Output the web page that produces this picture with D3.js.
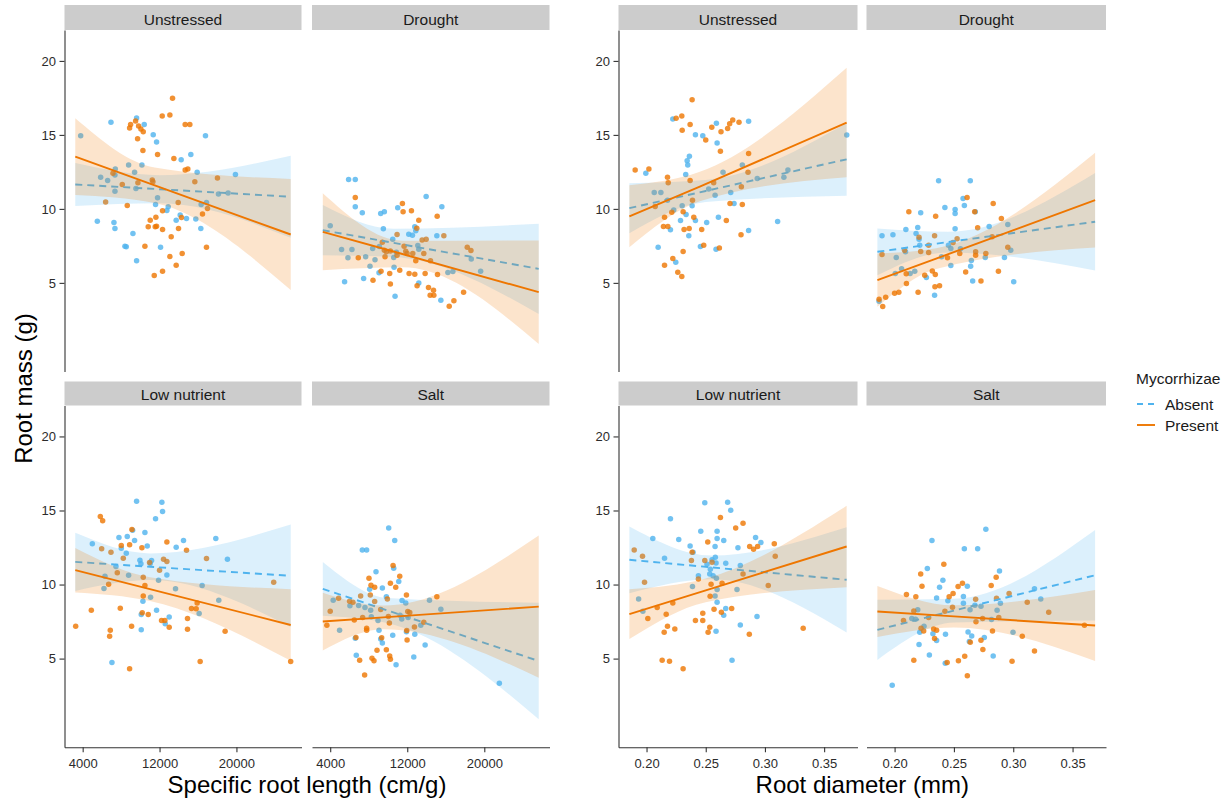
<!DOCTYPE html>
<html><head><meta charset="utf-8">
<script src="https://cdn.jsdelivr.net/npm/d3@7"></script>
<style>body{margin:0;background:#fff;} text{font-family:"Liberation Sans",Arial,sans-serif;}</style>
</head><body><svg id="chart" width="1231" height="803"></svg>
<script>
const treatments = ["Unstressed","Drought","Low nutrient","Salt"];
const groups = ["Absent","Present"];
const srlTicks = [4000,12000,20000];
const diaTicks = [0.20,0.25,0.30,0.35];
const yTicks = [5,10,15,20];
const srlRange = [3230, 25650];
const diaRange = [0.1855, 0.369];
const yRange = [0.06, 21.04];

// ---- points: [x, root mass] ----
const srlUnstressedAbsent = [[3792,14.95],[6944,15.85],[9610,16.14],[10406,15.71],[11342,15.01],[11688,14.52],[16779,14.95],[14250,13.32],[15255,13.68],[15913,12.47],[19895,12.33],[8779,12.96],[10164,12.96],[9402,12.47],[7394,12.69],[7359,12.29],[5870,12.13],[6597,11.92],[7359,11.20],[9541,11.38],[11792,10.75],[11584,10.30],[12900,10.14],[12762,9.89],[16329,10.30],[16883,10.44],[18130,11.0],[19134,11.07],[5524,9.17],[7255,9.08],[7359,8.68],[13731,9.24],[14804,9.35],[15774,9.31],[14146,9.58],[16294,8.68],[9229,8.34],[8398,7.48],[8536,7.44],[12103,7.41],[9610,6.49]];
const srlUnstressedPresent = [[13350,17.47],[12277,16.28],[13073,16.35],[9506,15.94],[8987,15.71],[8883,15.47],[9818,15.6],[10060,15.4],[10303,15.22],[14666,15.71],[15151,15.71],[9714,14.74],[10268,13.95],[11792,13.68],[13489,13.41],[14666,12.62],[14943,12.69],[18026,12.08],[15670,11.83],[11238,11.95],[11307,11.83],[9749,11.77],[8121,11.65],[7151,12.4],[6390,10.46],[8641,10.23],[13939,10.44],[16987,10.03],[12311,9.87],[16467,9.65],[11619,9.44],[11030,9.24],[10822,8.79],[11550,8.79],[11688,8.83],[12311,8.61],[13974,8.68],[14285,9.42],[13212,8.11],[10476,7.48],[16883,7.41],[14354,6.98],[13073,6.78],[13731,6.19],[12311,5.79],[11446,5.50]];
const srlDroughtAbsent = [[4000,8.86],[5909,11.99],[6603,11.99],[6603,10.14],[7332,9.74],[9241,9.69],[9623,9.80],[9519,8.65],[11011,10.08],[13962,10.84],[15593,10.14],[15073,8.18],[12781,8.79],[12886,8.52],[12157,8.29],[12539,8.22],[13094,7.53],[13198,7.28],[10491,7.95],[5180,7.26],[6256,7.26],[5840,6.69],[7679,6.76],[8408,7.32],[9102,7.46],[8651,6.56],[8131,6.13],[10595,6.71],[10873,7.07],[10630,6.06],[9067,5.68],[7471,5.29],[5493,5.07],[10734,4.10],[13198,5.0],[15489,3.83],[16218,5.70],[16739,5.77],[18648,6.62],[19620,5.79]];
const srlDroughtPresent = [[6603,10.77],[11497,10.37],[11567,9.80],[12435,9.87],[13198,9.24],[12990,8.70],[15107,9.51],[15801,8.18],[13545,7.89],[13962,7.95],[10942,8.27],[9415,7.75],[11671,7.48],[9623,7.21],[9831,7.10],[10248,7.16],[11844,7.14],[11983,6.98],[12573,6.98],[13718,6.98],[9692,6.76],[10942,6.87],[12886,6.49],[14413,6.49],[6916,6.69],[8443,5.18],[9276,5.79],[10178,5.63],[11220,5.86],[12192,5.63],[12781,5.59],[13857,5.63],[15142,5.56],[10248,4.93],[13023,4.80],[14204,4.68],[14725,4.50],[14378,4.16],[14760,4.16],[16843,3.80],[16357,3.42],[17849,4.37],[18231,7.41],[18613,7.19]];
const srlLowAbsent = [[5004,12.75],[6216,9.73],[6320,10.56],[7047,4.73],[7463,11.22],[7775,13.18],[8017,12.45],[8641,13.24],[8537,12.12],[8779,10.63],[9194,13.67],[9402,12.97],[9610,15.63],[9957,11.64],[10060,11.40],[10268,8.87],[10095,7.97],[10095,6.94],[10476,13.51],[10718,12.61],[11030,11.42],[11169,11.62],[11065,9.14],[11584,14.44],[11688,8.27],[11896,10.29],[12242,15.56],[12311,14.93],[12588,7.36],[12761,10.65],[13004,7.81],[13662,9.71],[13731,12.52],[14493,12.97],[16121,8.04],[16432,9.93],[17852,13.11],[18164,8.94],[19064,11.71]];
const srlLowPresent = [[3273,7.18],[4900,8.27],[5835,14.59],[6078,14.30],[5974,12.41],[6944,12.18],[6701,10.02],[7602,10.79],[7913,8.40],[6874,6.91],[6805,6.51],[8017,12.63],[8225,11.78],[8883,12.68],[9125,13.72],[9090,7.18],[8883,4.32],[10164,12.48],[10303,10.50],[10303,9.23],[10476,9.93],[10199,8.09],[10822,7.97],[10961,11.49],[12000,10.97],[12415,11.71],[12761,11.55],[12761,12.88],[12207,7.57],[12554,7.57],[13004,7.12],[14805,12.32],[14909,7.70],[14909,6.98],[15324,8.38],[15809,8.36],[15913,8.76],[16225,4.80],[16883,11.76],[18822,6.85],[23878,10.16],[25644,4.80]];
const srlSaltAbsent = [[4312,8.94],[4972,6.91],[6048,8.56],[6603,6.37],[6707,5.23],[6950,8.58],[7332,12.34],[7783,12.34],[7610,8.45],[8200,8.27],[8269,7.82],[8096,9.68],[8755,10.86],[8963,7.57],[9067,6.91],[9241,6.33],[9415,6.06],[9415,9.77],[9831,9.17],[10074,13.81],[10491,6.58],[10699,12.97],[10595,11.10],[10838,4.59],[11116,10.20],[11255,7.93],[11463,8.92],[11428,7.68],[11845,8.76],[11914,6.82],[12088,7.77],[12678,5.11],[12781,6.64],[13406,7.25],[13857,5.92],[14309,8.94],[15489,8.33],[21563,3.33]];
const srlSaltPresent = [[3653,7.25],[4000,8.20],[4868,9.08],[6013,8.87],[6360,8.81],[6499,7.61],[6673,6.42],[7055,4.89],[7159,9.23],[7367,7.77],[7575,3.90],[7783,7.05],[7783,6.91],[8026,10.43],[8235,9.95],[8165,9.30],[8616,9.82],[8616,8.85],[8339,5.02],[8547,4.86],[8859,5.56],[9241,8.31],[9345,6.40],[9831,5.59],[9935,9.03],[10039,7.84],[10144,7.41],[10178,5.18],[10248,4.95],[10248,10.09],[10526,11.28],[10804,9.82],[11220,10.56],[11914,9.30],[12053,8.18],[12261,8.11],[11949,6.89],[11983,6.26],[12747,7.14],[13718,7.45],[15073,9.17]];

const diaUnstressedAbsent = [[0.1994,12.40],[0.2065,11.11],[0.2121,11.11],[0.2098,7.41],[0.2177,10.59],[0.2202,8.59],[0.2230,9.92],[0.2222,16.07],[0.2247,6.40],[0.2287,9.22],[0.2301,10.21],[0.2331,12.33],[0.2334,9.62],[0.2343,13.26],[0.2348,12.96],[0.2362,13.55],[0.2385,10.21],[0.2357,8.18],[0.2413,15.01],[0.2413,9.22],[0.2455,7.46],[0.2475,14.95],[0.2508,9.08],[0.2525,11.34],[0.2579,10.93],[0.2590,15.78],[0.2596,14.45],[0.2587,7.28],[0.2607,9.44],[0.2646,12.47],[0.2711,11.11],[0.2739,10.37],[0.2809,12.96],[0.2862,15.92],[0.2862,8.54],[0.2935,12.06],[0.3107,9.15],[0.3160,12.13],[0.3194,12.62],[0.3691,14.99]];
const diaUnstressedPresent = [[0.1904,12.62],[0.2020,12.69],[0.2073,10.16],[0.2177,12.13],[0.2183,11.77],[0.2152,9.44],[0.2143,8.81],[0.2180,8.81],[0.2152,6.19],[0.2213,9.78],[0.2222,6.65],[0.2250,16.12],[0.2298,16.28],[0.2301,15.31],[0.2309,9.80],[0.2309,7.12],[0.2317,8.61],[0.2264,5.72],[0.2298,5.43],[0.2360,8.68],[0.2368,15.71],[0.2368,11.92],[0.2385,17.38],[0.2388,10.59],[0.2399,9.44],[0.2466,8.61],[0.2483,7.55],[0.2500,14.65],[0.2551,15.51],[0.2567,11.77],[0.2624,13.89],[0.2629,15.22],[0.2615,7.35],[0.2674,9.22],[0.2685,15.44],[0.2705,10.37],[0.2702,15.76],[0.2728,16.01],[0.2781,15.85],[0.2801,11.50],[0.2809,10.30],[0.2798,8.25],[0.2857,12.47],[0.2862,13.75]];
const diaDroughtAbsent = [[0.1869,3.76],[0.1894,8.18],[0.1986,8.25],[0.2014,6.71],[0.2006,5.63],[0.2059,5.95],[0.2095,8.61],[0.2092,7.10],[0.2131,5.63],[0.2170,5.79],[0.2181,8.34],[0.2195,8.74],[0.2206,7.95],[0.2212,7.55],[0.2220,9.74],[0.2268,5.36],[0.2337,4.16],[0.2371,11.90],[0.2396,6.76],[0.2424,10.10],[0.2454,7.55],[0.2474,7.32],[0.2474,6.17],[0.2510,9.96],[0.2510,9.69],[0.2510,8.65],[0.2555,7.30],[0.2577,10.71],[0.2588,10.23],[0.2638,11.90],[0.2647,6.51],[0.2641,6.13],[0.2658,5.13],[0.2680,9.80],[0.2764,6.71],[0.2797,8.81],[0.2926,6.71],[0.2954,8.95],[0.2979,7.21],[0.3004,5.07]];
const diaDroughtPresent = [[0.1869,3.89],[0.1900,3.40],[0.1925,4.03],[0.1894,6.92],[0.2000,4.30],[0.2036,4.37],[0.2084,7.21],[0.2098,5.61],[0.2100,4.95],[0.2120,9.80],[0.2198,4.37],[0.2206,8.09],[0.2220,7.12],[0.2254,5.52],[0.2287,7.55],[0.2287,7.05],[0.2318,5.81],[0.2337,8.18],[0.2343,5.56],[0.2346,9.51],[0.2340,4.73],[0.2379,4.80],[0.2446,6.69],[0.2493,7.73],[0.2527,7.98],[0.2549,6.98],[0.2599,5.74],[0.2611,10.77],[0.2675,9.80],[0.2683,7.10],[0.2683,6.87],[0.2700,8.72],[0.2728,5.13],[0.2769,6.98],[0.2822,8.11],[0.2831,10.37],[0.2875,5.79],[0.2900,9.35],[0.2954,7.41]];
const diaLowAbsent = [[0.1933,9.03],[0.1969,8.20],[0.2053,13.11],[0.2152,11.78],[0.2202,14.44],[0.2272,13.04],[0.2368,12.61],[0.2393,12.18],[0.2388,9.86],[0.2438,10.59],[0.2458,13.60],[0.2492,15.52],[0.2511,11.37],[0.2534,10.72],[0.2539,11.04],[0.2553,11.67],[0.2562,10.59],[0.2579,12.57],[0.2581,11.85],[0.2587,11.46],[0.2579,9.23],[0.2590,10.43],[0.2596,9.66],[0.2596,8.81],[0.2587,6.85],[0.2596,13.60],[0.2596,13.11],[0.2652,12.97],[0.2669,11.44],[0.2652,7.93],[0.2669,8.38],[0.2685,15.56],[0.2711,15.02],[0.2722,4.89],[0.2764,9.66],[0.2772,12.48],[0.2792,11.28],[0.2792,7.27],[0.2921,13.18],[0.2933,7.84],[0.2966,12.84]];
const diaLowPresent = [[0.1896,12.34],[0.1966,11.91],[0.1983,10.16],[0.2011,7.70],[0.2090,8.45],[0.2132,4.89],[0.2149,6.78],[0.2166,7.99],[0.2177,7.18],[0.2194,4.82],[0.2222,8.76],[0.2239,7.00],[0.2309,4.32],[0.2379,11.62],[0.2385,12.18],[0.2413,7.57],[0.2438,10.38],[0.2475,8.06],[0.2475,7.57],[0.2492,11.62],[0.2517,12.88],[0.2520,6.78],[0.2534,7.12],[0.2537,9.21],[0.2545,10.02],[0.2553,11.51],[0.2570,8.33],[0.2624,14.53],[0.2632,8.13],[0.2638,10.09],[0.2719,8.38],[0.2753,13.81],[0.2815,14.14],[0.2815,10.72],[0.2868,6.64],[0.2871,12.57],[0.2904,12.39],[0.2938,12.57],[0.3028,9.93],[0.3079,12.75],[0.3087,11.91],[0.3323,7.05]];
const diaSaltAbsent = [[0.1980,3.20],[0.2145,7.70],[0.2176,7.66],[0.2195,8.29],[0.2212,6.78],[0.2206,5.95],[0.2248,7.18],[0.2276,11.08],[0.2293,5.25],[0.2315,12.97],[0.2323,6.67],[0.2354,6.22],[0.2354,9.10],[0.2379,9.82],[0.2407,10.29],[0.2429,6.64],[0.2427,4.68],[0.2449,8.90],[0.2580,9.19],[0.2588,12.41],[0.2580,8.74],[0.2613,9.89],[0.2619,6.80],[0.2630,6.15],[0.2636,8.29],[0.2650,6.53],[0.2677,8.60],[0.2700,12.41],[0.2728,8.54],[0.2756,6.42],[0.2769,13.74],[0.2817,7.64],[0.2831,5.18],[0.2864,8.27],[0.2884,10.92],[0.2892,8.74],[0.2998,6.78],[0.3179,9.71],[0.3232,9.03]];
const diaSaltPresent = [[0.2075,7.57],[0.2100,9.32],[0.2162,8.22],[0.2162,4.89],[0.2179,9.17],[0.2220,10.72],[0.2231,9.89],[0.2223,7.05],[0.2245,6.87],[0.2287,7.77],[0.2329,7.00],[0.2337,6.35],[0.2354,6.91],[0.2415,11.37],[0.2424,8.20],[0.2443,4.73],[0.2460,9.17],[0.2488,8.47],[0.2493,9.39],[0.2535,9.86],[0.2538,4.86],[0.2572,10.09],[0.2591,5.16],[0.2613,3.85],[0.2638,6.10],[0.2683,9.01],[0.2686,7.48],[0.2728,6.24],[0.2744,5.61],[0.2742,7.70],[0.2814,9.93],[0.2825,6.87],[0.2856,10.50],[0.2859,9.08],[0.2878,7.77],[0.2965,9.39],[0.2990,4.82],[0.3076,6.51],[0.3118,8.81],[0.3179,5.52],[0.3299,8.13],[0.3600,7.25]];

// ---- fitted lines and confidence bands: [x, lower, fit, upper] ----
const srlUnstressedAbsentFit = [[3230,10.20,11.65,13.10],[12000,10.38,11.33,12.28],[25650,8.05,10.82,13.59]];
const srlUnstressedPresentFit = [[3230,10.94,13.53,16.12],[11500,10.39,11.59,12.79],[25650,4.52,8.27,12.02]];
const srlDroughtAbsentFit = [[3230,6.86,8.56,10.26],[10600,6.75,7.70,8.65],[25650,2.90,5.95,9.00]];
const srlDroughtPresentFit = [[3230,5.85,8.45,11.05],[11500,6.05,6.95,7.85],[25650,0.87,4.37,7.87]];
const srlLowAbsentFit = [[3230,9.57,11.53,13.49],[11000,10.30,11.20,12.10],[25650,7.13,10.59,14.05]];
const srlLowPresentFit = [[3230,9.47,10.97,12.47],[11000,8.89,9.69,10.49],[25650,4.86,7.27,9.68]];
const srlSaltAbsentFit = [[3230,7.89,9.71,11.53],[10000,7.39,8.24,9.09],[25650,0.91,4.84,8.77]];
const srlSaltPresentFit = [[3230,5.55,7.50,9.45],[9500,6.98,7.78,8.58],[25650,3.71,8.51,13.31]];
const diaUnstressedAbsentFit = [[0.1855,8.36,10.05,11.74],[0.25,10.46,11.21,11.96],[0.369,10.89,13.35,15.81]];
const diaUnstressedPresentFit = [[0.1855,7.40,9.50,11.60],[0.245,10.51,11.51,12.51],[0.369,12.13,15.83,19.53]];
const diaDroughtAbsentFit = [[0.1855,5.52,7.10,8.68],[0.245,7.06,7.76,8.46],[0.369,5.83,9.13,12.43]];
const diaDroughtPresentFit = [[0.1855,3.38,5.18,6.98],[0.235,5.94,6.64,7.34],[0.369,7.39,10.59,13.79]];
const diaLowAbsentFit = [[0.1855,9.42,11.67,13.92],[0.255,10.36,11.16,11.96],[0.369,6.77,10.32,13.87]];
const diaLowPresentFit = [[0.1855,6.32,8.00,9.68],[0.25,8.81,9.61,10.41],[0.369,9.82,12.57,15.32]];
const diaSaltAbsentFit = [[0.1855,4.91,6.94,8.97],[0.25,7.44,8.24,9.04],[0.369,7.57,10.63,13.69]];
const diaSaltPresentFit = [[0.1855,6.45,8.18,9.91],[0.25,7.10,7.85,8.60],[0.369,4.83,7.23,9.63]];

// ---- assemble lookup tables ----
const pointSets = {
  srl: {"Unstressed":[srlUnstressedAbsent,srlUnstressedPresent],"Drought":[srlDroughtAbsent,srlDroughtPresent],"Low nutrient":[srlLowAbsent,srlLowPresent],"Salt":[srlSaltAbsent,srlSaltPresent]},
  dia: {"Unstressed":[diaUnstressedAbsent,diaUnstressedPresent],"Drought":[diaDroughtAbsent,diaDroughtPresent],"Low nutrient":[diaLowAbsent,diaLowPresent],"Salt":[diaSaltAbsent,diaSaltPresent]}
};
const fitSets = {
  srl: {"Unstressed":[srlUnstressedAbsentFit,srlUnstressedPresentFit],"Drought":[srlDroughtAbsentFit,srlDroughtPresentFit],"Low nutrient":[srlLowAbsentFit,srlLowPresentFit],"Salt":[srlSaltAbsentFit,srlSaltPresentFit]},
  dia: {"Unstressed":[diaUnstressedAbsentFit,diaUnstressedPresentFit],"Drought":[diaDroughtAbsentFit,diaDroughtPresentFit],"Low nutrient":[diaLowAbsentFit,diaLowPresentFit],"Salt":[diaSaltAbsentFit,diaSaltPresentFit]}
};

const baseColor = ["#4FB3EE", "#EE7600"];
const svg = d3.select("#chart");
const expand = r => [r[0] - 0.05*(r[1]-r[0]), r[1] + 0.05*(r[1]-r[0])];

const blocks = [
  {key:"srl", cols:[[64.5,301.5],[312,549.5]], range:srlRange, ticks:srlTicks, fmt:d3.format("d"), title:"Specific root length (cm/g)"},
  {key:"dia", cols:[[618.5,857.5],[866.5,1106]], range:diaRange, ticks:diaTicks, fmt:d3.format(".2f"), title:"Root diameter (mm)"}
];
const rows = [{strip:[5,30], plot:[30,371.5]}, {strip:[381.5,405.5], plot:[405.5,747.3]}];
const yDomain = expand(yRange);

blocks.forEach(b => {
  treatments.forEach((t, i) => {
    const r = rows[Math.floor(i/2)], c = b.cols[i%2];
    const x = d3.scaleLinear().domain(expand(b.range)).range(c);
    const y = d3.scaleLinear().domain(yDomain).range([r.plot[1], r.plot[0]]);
    const g = svg.append("g");
    // strip
    g.append("rect").attr("x", c[0]).attr("y", r.strip[0]).attr("width", c[1]-c[0]).attr("height", r.strip[1]-r.strip[0]).attr("fill", "#CCCCCC");
    g.append("text").attr("x", (c[0]+c[1])/2).attr("y", r.strip[1]-5.5).attr("text-anchor","middle")
      .attr("font-size", 15.5).attr("fill","#1A1A1A").text(t);
    // points
    pointSets[b.key][t].forEach((pts, gi) => {
      g.append("g").selectAll("circle").data(pts).join("circle")
        .attr("cx", d => x(d[0])).attr("cy", d => y(d[1])).attr("r", 2.75)
        .attr("fill", baseColor[gi]).attr("fill-opacity", 0.8);
    });
    // smooths
    fitSets[b.key][t].forEach((f, gi) => {
      const area = d3.area().x(d => x(d[0])).y0(d => y(d[1])).y1(d => y(d[3])).curve(d3.curveMonotoneX);
      g.append("path").datum(f).attr("d", area).attr("fill", baseColor[gi]).attr("fill-opacity", 0.2);
      const line = d3.line().x(d => x(d[0])).y(d => y(d[2]));
      g.append("path").datum(f).attr("d", line).attr("fill","none").attr("stroke", baseColor[gi])
        .attr("stroke-width", 1.9).attr("stroke-dasharray", gi === 0 ? "7,5" : null);
    });
    // axes
    if (i%2 === 0) {
      const ax = g.append("g").attr("transform", `translate(${c[0]},0)`)
        .call(d3.axisLeft(y).tickValues(yTicks).tickSize(5).tickSizeOuter(0).tickPadding(3.5));
      styleAxis(ax);
    }
    if (i >= 2) {
      const ax = g.append("g").attr("transform", `translate(0,${r.plot[1]})`)
        .call(d3.axisBottom(x).tickValues(b.ticks).tickFormat(b.fmt).tickSize(5).tickSizeOuter(0).tickPadding(6.5));
      styleAxis(ax);
    }
  });
  svg.append("text").attr("x", (b.cols[0][0]+b.cols[1][1])/2).attr("y", 792.5).attr("text-anchor","middle")
    .attr("font-size", 24).attr("fill","#000").text(b.title);
});

function styleAxis(ax) {
  ax.select(".domain").attr("stroke","#333").attr("stroke-width",1.1);
  ax.selectAll(".tick line").attr("stroke","#333").attr("stroke-width",1.1);
  ax.selectAll(".tick text").attr("font-size",13).attr("fill","#2b2b2b").attr("font-family",'"Liberation Sans",Arial,sans-serif');
}

// y title
svg.append("text").attr("transform","translate(31.5,388.5) rotate(-90)").attr("text-anchor","middle")
  .attr("font-size", 24).attr("fill","#000").text("Root mass (g)");

// legend
const leg = svg.append("g");
leg.append("text").attr("x",1136).attr("y",384).attr("font-size",15.5).attr("fill","#1A1A1A").text("Mycorrhizae");
groups.forEach((gname, gi) => {
  const yy = 404 + gi*21;
  leg.append("line").attr("x1",1137).attr("x2",1155).attr("y1",yy).attr("y2",yy)
    .attr("stroke", baseColor[gi]).attr("stroke-width",1.9).attr("stroke-dasharray", gi === 0 ? "6,5" : null);
  leg.append("text").attr("x",1165).attr("y",yy+5.5).attr("font-size",15.5).attr("fill","#1A1A1A").text(gname);
});
</script></body></html>
